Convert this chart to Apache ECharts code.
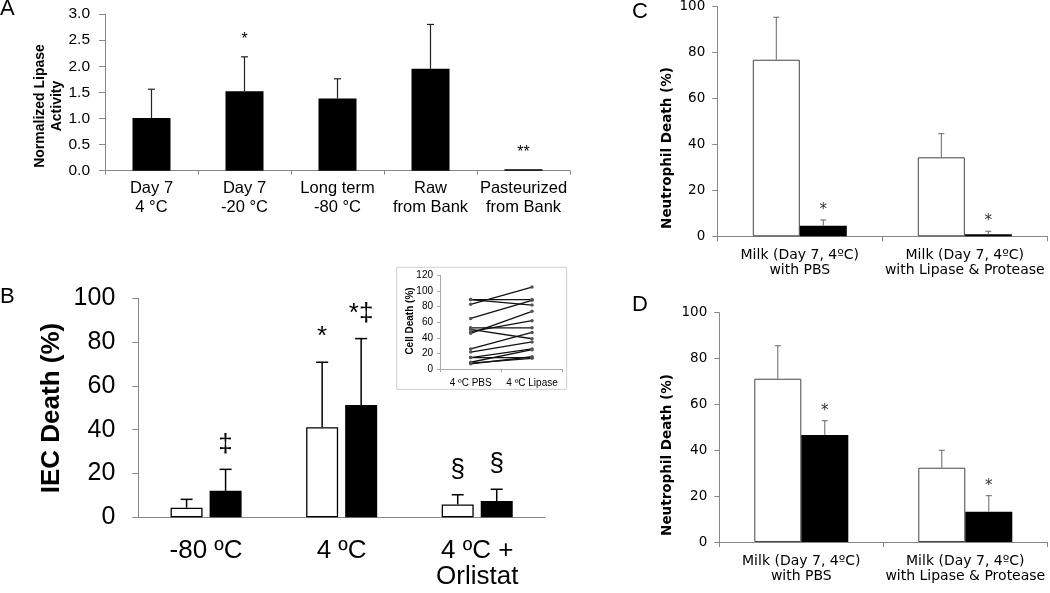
<!DOCTYPE html>
<html><head><meta charset="utf-8">
<script src="https://cdn.jsdelivr.net/npm/echarts@6/dist/echarts.min.js"></script>
<style>html,body{margin:0;padding:0;background:#fff}#c{width:1050px;height:593px}</style>
</head><body><div id="c"></div><script>
// ---------- Panel A ----------
const catsA = ['Day 7\n4 °C', 'Day 7\n-20 °C', 'Long term\n-80 °C', 'Raw\nfrom Bank', 'Pasteurized\nfrom Bank'];
const lipaseActivity = [1.01, 1.52, 1.38, 1.95, 0.03];
const lipaseActivityErr = [0.55, 0.66, 0.38, 0.85, 0];
const sigA = ['', '*', '', '', '**'];
// ---------- Panel B ----------
const catsB = ['-80 ºC', '4 ºC', '4 ºC +\nOrlistat'];
const iecWhite = [4.4, 41.1, 5.9];
const iecWhiteErr = [3.8, 29.7, 4.4];
const iecBlack = [12.1, 51.3, 7.4];
const iecBlackErr = [9.8, 30.3, 5.4];
const sigBWhite = ['', '*', '§'];
const sigBBlack = ['‡', '*‡', '§'];
// ---------- Inset ----------
const insetCats = ['4 ºC PBS', '4 ºC Lipase'];
const insetPBS = [83, 89, 89, 65, 53, 51, 48, 46, 26, 22, 15, 15, 9, 7, 8];
const insetLipase = [105, 89, 82, 88, 53, 39, 62, 74, 47, 35, 26, 15, 25, 16, 14];
// ---------- Panels C & D ----------
const catsCD = ['Milk (Day 7, 4ºC)\nwith PBS', 'Milk (Day 7, 4ºC)\nwith Lipase & Protease'];
const cWhite = [76.9, 34.4];
const cWhiteErr = [18.5, 10.3];
const cBlack = [4.6, 0.9];
const cBlackErr = [2.5, 1.3];
const dWhite = [71.2, 32.4];
const dWhiteErr = [14.4, 7.6];
const dBlack = [46.7, 13.2];
const dBlackErr = [6.2, 7.0];
const sigCDWhite = ['', ''];
const sigCDBlack = ['*', '*'];

const FA = 'Liberation Sans, Arial, sans-serif';
const FV = 'DejaVu Sans, Verdana, sans-serif';
const AX = '#888';

function errBars(gi, vals, errs, sig, offset, opt) {
  return {
    type: 'custom', xAxisIndex: gi, yAxisIndex: gi, z: 5, silent: true, animation: false,
    data: vals.map((v, i) => [i, v, errs[i]]),
    encode: { x: 0, y: 1 },
    renderItem: function (params, api) {
      const i = api.value(0), v = api.value(1), e = api.value(2);
      const b = api.coord([i, v]);
      const t = api.coord([i, v + e]);
      const x = b[0] + offset;
      const ch = [];
      if (e > 0) {
        ch.push({ type: 'line', shape: { x1: x, y1: b[1], x2: x, y2: t[1] }, style: { stroke: opt.color, lineWidth: opt.lw } });
        ch.push({ type: 'line', shape: { x1: x - opt.cap, y1: t[1], x2: x + opt.cap, y2: t[1] }, style: { stroke: opt.color, lineWidth: opt.lw } });
      }
      const s = sig[params.dataIndex];
      if (s) ch.push({ type: 'text', x: x, y: t[1] - opt.gap, style: { text: s, font: opt.font, fill: opt.tcolor || '#000', align: 'center', verticalAlign: 'middle' } });
      return { type: 'group', children: ch };
    }
  };
}

function catAxis(gi, data, o) {
  return {
    gridIndex: gi, type: 'category', data: data,
    axisLine: { show: true, lineStyle: { color: o.lineColor || AX, width: 1 } },
    axisTick: { show: o.tick, length: o.tickLen || 4, lineStyle: { color: o.lineColor || AX } },
    axisLabel: { interval: 0, margin: o.margin, fontSize: o.fontSize, fontFamily: o.font, color: '#000', lineHeight: o.lineHeight },
    splitLine: { show: false }
  };
}
function valAxis(gi, min, max, interval, o) {
  return {
    gridIndex: gi, type: 'value', min: min, max: max, interval: interval,
    axisLine: { show: true, lineStyle: { color: o.lineColor || AX, width: 1 } },
    axisTick: { show: true, length: o.tickLen || 6, lineStyle: { color: o.lineColor || AX } },
    axisLabel: { margin: o.margin, fontSize: o.fontSize, fontFamily: o.font, color: '#000', formatter: o.formatter },
    splitLine: { show: false }
  };
}

const chart = echarts.init(document.getElementById('c'), null, { renderer: 'canvas' });
const series = [];
// A
series.push({ type: 'bar', xAxisIndex: 0, yAxisIndex: 0, data: lipaseActivity, barWidth: 38, itemStyle: { color: '#000' }, animation: false });
series.push(errBars(0, lipaseActivity, lipaseActivityErr, sigA, 0, { color: '#222', lw: 1.2, cap: 3.5, gap: 17, font: '16px ' + FA }));
// B
series.push({ type: 'bar', xAxisIndex: 1, yAxisIndex: 1, data: iecWhite, barWidth: 32, barGap: '22%', itemStyle: { color: '#fff', borderColor: '#000', borderWidth: 1.3 }, animation: false });
series.push({ type: 'bar', xAxisIndex: 1, yAxisIndex: 1, data: iecBlack, barWidth: 32, barGap: '22%', itemStyle: { color: '#000' }, animation: false });
series.push(errBars(1, iecWhite, iecWhiteErr, sigBWhite, -19.5, { color: '#000', lw: 1.5, cap: 6, gap: 25, font: '26px ' + FA }));
series.push(errBars(1, iecBlack, iecBlackErr, sigBBlack, 19.5, { color: '#000', lw: 1.5, cap: 6, gap: 25, font: '26px ' + FA }));
// Inset
insetPBS.forEach((p, i) => {
  series.push({ type: 'line', xAxisIndex: 2, yAxisIndex: 2, data: [p, insetLipase[i]], symbol: 'circle', symbolSize: 3.5,
    lineStyle: { color: '#111', width: 1.3 }, itemStyle: { color: '#555' }, z: 4, animation: false, silent: true });
});
// C
series.push({ type: 'bar', xAxisIndex: 3, yAxisIndex: 3, data: cWhite, barWidth: 47, barGap: '0%', itemStyle: { color: '#fff', borderColor: '#444', borderWidth: 1 }, animation: false });
series.push({ type: 'bar', xAxisIndex: 3, yAxisIndex: 3, data: cBlack, barWidth: 47, barGap: '0%', itemStyle: { color: '#000' }, animation: false });
series.push(errBars(3, cWhite, cWhiteErr, sigCDWhite, -23.5, { color: '#666', lw: 1, cap: 3, gap: 10, font: '15px ' + FV, tcolor: '#333' }));
series.push(errBars(3, cBlack, cBlackErr, sigCDBlack, 23.5, { color: '#666', lw: 1, cap: 3, gap: 10, font: '15px ' + FV, tcolor: '#333' }));
// D
series.push({ type: 'bar', xAxisIndex: 4, yAxisIndex: 4, data: dWhite, barWidth: 47, barGap: '0%', itemStyle: { color: '#fff', borderColor: '#444', borderWidth: 1 }, animation: false });
series.push({ type: 'bar', xAxisIndex: 4, yAxisIndex: 4, data: dBlack, barWidth: 47, barGap: '0%', itemStyle: { color: '#000' }, animation: false });
series.push(errBars(4, dWhite, dWhiteErr, sigCDWhite, -23.5, { color: '#666', lw: 1, cap: 3, gap: 10, font: '15px ' + FV, tcolor: '#333' }));
series.push(errBars(4, dBlack, dBlackErr, sigCDBlack, 23.5, { color: '#666', lw: 1, cap: 3, gap: 10, font: '15px ' + FV, tcolor: '#333' }));

function vtitle(text, x, y, font, lh) {
  return { type: 'text', x: x, y: y, rotation: Math.PI / 2, z: 10, silent: true,
    style: { text: text, font: font, fill: '#000', align: 'center', verticalAlign: 'middle', lineHeight: lh } };
}
function letter(text, x, y) {
  return { type: 'text', x: x, y: y, z: 10, silent: true, style: { text: text, font: '22px ' + FA, fill: '#000' } };
}

chart.setOption({
  animation: false,
  backgroundColor: '#fff',
  grid: [
    { left: 105, top: 14, width: 465, height: 156.7, outerBoundsMode: 'none' },
    { left: 138.3, top: 298.3, width: 406.7, height: 219, outerBoundsMode: 'none' },
    { left: 440, top: 275.3, width: 122.7, height: 94, outerBoundsMode: 'none' },
    { left: 717.3, top: 6.7, width: 330, height: 229.6, outerBoundsMode: 'none' },
    { left: 719.3, top: 312.7, width: 328, height: 229.3, outerBoundsMode: 'none' }
  ],
  xAxis: [
    catAxis(0, catsA, { tick: true, tickLen: 4, margin: 8, fontSize: 16.5, font: FA, lineHeight: 19 }),
    catAxis(1, catsB, { tick: false, margin: 21, fontSize: 26, font: FA, lineHeight: 26 }),
    catAxis(2, insetCats, { tick: true, tickLen: 3, margin: 8, fontSize: 10, font: FA, lineHeight: 12, lineColor: '#aaa' }),
    catAxis(3, catsCD, { tick: true, tickLen: 5, margin: 12, fontSize: 14, font: FV, lineHeight: 15 }),
    catAxis(4, catsCD, { tick: true, tickLen: 5, margin: 12, fontSize: 14, font: FV, lineHeight: 15 })
  ],
  yAxis: [
    valAxis(0, 0, 3, 0.5, { margin: 15, fontSize: 15.5, font: FA, formatter: v => v.toFixed(1) }),
    valAxis(1, 0, 100, 20, { margin: 23, fontSize: 25, font: FA }),
    valAxis(2, 0, 120, 20, { margin: 7, fontSize: 10, font: FA, tickLen: 3, lineColor: '#aaa' }),
    valAxis(3, 0, 100, 20, { margin: 12, fontSize: 13.5, font: FV, tickLen: 5 }),
    valAxis(4, 0, 100, 20, { margin: 12, fontSize: 13.5, font: FV, tickLen: 5 })
  ],
  graphic: [
    { type: 'rect', x: 396.7, y: 267.3, z: -1, silent: true, shape: { width: 170, height: 122 }, style: { fill: '#fff', stroke: '#cfcfcf', lineWidth: 1 } },
    letter('A', 0, -2), letter('B', 0, 286), letter('C', 632, 1), letter('D', 632, 294),
    vtitle('Normalized Lipase\nActivity', 48.5, 106, 'bold 14px ' + FA, 17),
    vtitle('IEC Death (%)', 52, 408, 'bold 26px ' + FA, 30),
    vtitle('Cell Death (%)', 410, 321, 'bold 10px ' + FA, 12),
    vtitle('Neutrophil Death (%)', 667, 148, 'bold 13.5px ' + FV, 16),
    vtitle('Neutrophil Death (%)', 667, 455, 'bold 13.5px ' + FV, 16)
  ],
  series: series
});
</script></body></html>
